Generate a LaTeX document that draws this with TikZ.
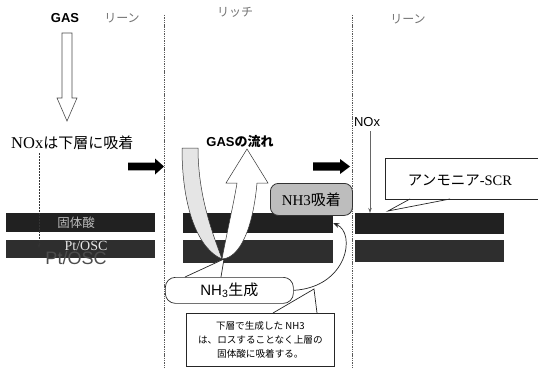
\documentclass[tikz,border=0pt]{standalone}
\usepackage{fontspec}
\setmainfont{Liberation Serif}
\setsansfont{Liberation Sans}
\newfontfamily\jp{Noto Sans CJK JP}
\usetikzlibrary{arrows.meta}
\begin{document}
\begin{tikzpicture}[x=1pt,y=-1pt,
  sepline/.style={draw=black!65, line width=0.7pt, dash pattern=on 1.4pt off 0.9pt},
  layer/.style={fill=black!87, draw=none, anchor=north west, inner sep=0pt},
  lbl/.style={text=black!55, font=\jp\fontsize{12}{12}\selectfont},
  blk/.style={fill=black},
  callout/.style={draw=black!85, line width=0.7pt, fill=white},
  link/.style={draw=black!85, line width=0.7pt}
]
\useasboundingbox (0,0) rectangle (538,369);

% separators
\coordinate (s1a) at (164,15); \coordinate (s1b) at (164,369);
\coordinate (s2a) at (352,15); \coordinate (s2b) at (352,369);
\draw[sepline] (s1a) -- (s1b);
\draw[sepline] (s2a) -- (s2b);

% top labels
\node[font=\sffamily\bfseries\fontsize{13}{13}\selectfont] (gas) at (65,18) {GAS};
\node[lbl] (lean1) at (122,18) {リーン};
\node[lbl] (rich) at (235,12) {リッチ};
\node[lbl] (lean2) at (408,19) {リーン};

% hollow gas arrow
\draw[draw=black!70, fill=white, line width=0.6pt]
  (62,33) -- (72,33) -- (72,98) -- (77,98) -- (67,121) -- (57,98) -- (62,98) -- cycle;

% left section
\node[anchor=west, inner sep=0pt] (noxL) at (11,143)
  {\fontsize{16.5}{16.5}\selectfont NOx{\jp\fontsize{15}{15}\selectfont は下層に吸着}};

\node[layer, minimum width=149pt, minimum height=19pt] (L1) at (6,213) {};
\node[layer, fill=black!82, minimum width=149pt, minimum height=18pt] (L2) at (6,240) {};
\node[text=black!28, font=\jp\fontsize{12.5}{12.5}\selectfont] (L1t) at (76,222.5) {固体酸};
\node[text=black!70, font=\sffamily\fontsize{18}{18}\selectfont] (ghost) at (76,258) {Pt/OSC};
\node[text=black!10, font=\fontsize{14}{14}\selectfont] (L2t) at (86,246) {Pt/OSC};

\coordinate (dA) at (39,153); \coordinate (dB) at (39,248);
\draw[draw=black!80, line width=0.7pt, dash pattern=on 2pt off 1pt, -{Stealth[length=4pt,width=3pt]}] (dA) -- (dB);

% black arrows
\fill[blk, shift={(128,166.5)}] (0,-3.8) -- (27,-3.8) -- (27,-8) -- (36,0) -- (27,8) -- (27,3.8) -- (0,3.8) -- cycle;
\fill[blk, shift={(313,166.5)}] (0,-4.2) -- (27,-4.2) -- (27,-7.5) -- (37,0) -- (27,7.5) -- (27,4.2) -- (0,4.2) -- cycle;

% middle section layers
\node[layer, minimum width=150pt, minimum height=20pt] (M1) at (183,213) {};
\node[layer, fill=black!82, minimum width=150pt, minimum height=23pt] (M2) at (183,240) {};

% U-shaped gas flow arrow
\draw[draw=black!80, fill=black!10, line width=0.5pt]
  (182,148) .. controls (182,212) and (200,250) .. (222,259)
  .. controls (212,232) and (198,195) .. (198,148) -- cycle;
\draw[draw=black!80, fill=white, line width=0.5pt]
  (222,259) .. controls (227,232) and (234,202) .. (237,183)
  -- (226,183) -- (247,149) -- (268,183) -- (257,183)
  .. controls (253,228) and (240,258) .. (222,259) -- cycle;
\node[font=\sffamily\bfseries\fontsize{13}{13}\selectfont] (flow) at (240,142) {GAS{\jp\bfseries の流れ}};

% NH3 adsorption box
\node[draw=black!80, line width=0.8pt, fill=black!26, rounded corners=8pt, anchor=north west,
      inner sep=0pt, minimum width=82pt, minimum height=32pt] (ads) at (270,183)
  {\fontsize{15}{15}\selectfont NH3{\jp 吸着}};

% NH3 generation callout
\node[callout, rounded corners=10pt, anchor=north west, inner sep=0pt,
      minimum width=128pt, minimum height=26pt] (gen) at (165,277)
  {\sffamily\fontsize{15}{15}\selectfont NH\textsubscript{3}{\jp 生成}};
\coordinate (g1) at (185,277); \coordinate (g2) at (221,277); \coordinate (gt) at (224,259);
\fill[white] ([yshift=1pt]g1) -- (gt) -- ([yshift=1pt]g2) -- cycle;
\draw[link] (g1) -- (gt) -- (g2);

% curved arrow to upper layer
\draw[link, -{Stealth[length=6pt,width=5pt]}] (gen.east) .. controls (348,287) and (356,233) .. (M1.east);

% note callout
\node[callout, anchor=north west, inner sep=0pt, minimum width=148pt, minimum height=53pt,
      align=center, font=\jp\fontsize{9.6}{14}\selectfont] (note) at (186,313)
  {下層で生成した NH3\\は、ロスすることなく上層の\\固体酸に吸着する。};
\coordinate (n1) at (273,313); \coordinate (n2) at (317,313); \coordinate (nt) at (314,289);
\fill[white] ([yshift=1pt]n1) -- (nt) -- ([yshift=1pt]n2) -- cycle;
\draw[link] (n1) -- (nt) -- (n2);

% right section
\node[layer, minimum width=149pt, minimum height=21pt] (R1) at (355,213) {};
\node[layer, fill=black!82, minimum width=149pt, minimum height=22pt] (R2) at (355,240) {};

\node[font=\sffamily\fontsize{13}{13}\selectfont] (noxR) at (367,122) {NOx};
\coordinate (nA) at (370,131);
\draw[draw=black!60, line width=0.7pt, -{Stealth[length=5pt,width=3.5pt]}] (nA) -- (nA |- R1.north);

\node[callout, anchor=north west, inner sep=0pt, minimum width=160pt, minimum height=41pt] (scr) at (385,158) {};
\node[font=\fontsize{14.5}{14.5}\selectfont] (scrt) at (460,180) {{\jp アンモニア}-SCR};
\coordinate (c1) at (410,199); \coordinate (c2) at (450,199); \coordinate (ct) at (388,211);
\fill[white] ([yshift=-1pt]c1) -- (ct) -- ([yshift=-1pt]c2) -- cycle;
\draw[link] (c1) -- (ct) -- (c2);
\end{tikzpicture}
\end{document}
